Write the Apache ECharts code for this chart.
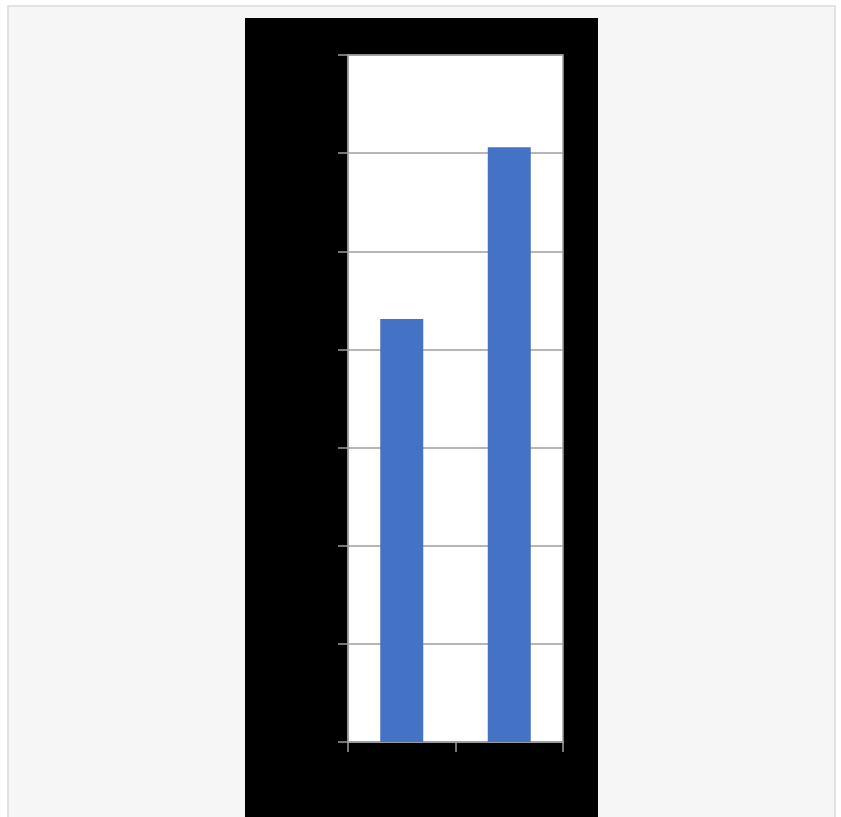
<!DOCTYPE html>
<html>
<head>
<meta charset="utf-8">
<script src="https://cdn.jsdelivr.net/npm/echarts@6/dist/echarts.min.js"></script>
<style>
  html, body { margin: 0; padding: 0; width: 841px; height: 817px; overflow: hidden; background: #ffffff; }
  #frame { position: absolute; left: 7px; top: 5px; width: 825px; height: 830px; border: 2px solid #e2e2e2; background: #f6f6f6; }
  #chart { position: absolute; left: 245px; top: 18px; width: 353px; height: 800px; }
</style>
</head>
<body>
<div id="frame"></div>
<div id="chart"></div>
<script>
const categories = ["Series 1", "Series 2"];
const values = [4.31, 6.06];
const yMin = 0;
const yMax = 7;
const yInterval = 1;

const chart = echarts.init(document.getElementById('chart'), null, { renderer: 'canvas' });
chart.setOption({
  backgroundColor: '#000000',
  animation: false,
  grid: {
    left: 103, top: 37, width: 215, height: 687,
    show: true, backgroundColor: '#ffffff', borderColor: '#9e9e9e', borderWidth: 1.5
  },
  xAxis: {
    type: 'category',
    data: categories,
    axisLine: { show: true, lineStyle: { color: '#9e9e9e', width: 1.5 } },
    axisTick: { show: true, length: 10, alignWithLabel: false, lineStyle: { color: '#9e9e9e', width: 1.5 } },
    axisLabel: { show: false },
    splitLine: { show: false }
  },
  yAxis: {
    type: 'value',
    min: yMin, max: yMax, interval: yInterval,
    axisLine: { show: true, lineStyle: { color: '#9e9e9e', width: 1.5 } },
    axisTick: { show: true, length: 10, lineStyle: { color: '#9e9e9e', width: 1.5 } },
    axisLabel: { show: false },
    splitLine: { show: true, lineStyle: { color: '#9e9e9e', width: 1.5 } }
  },
  series: [{
    type: 'bar',
    data: values,
    barWidth: '40%',
    itemStyle: { color: '#4472c4' }
  }]
});
</script>
</body>
</html>
